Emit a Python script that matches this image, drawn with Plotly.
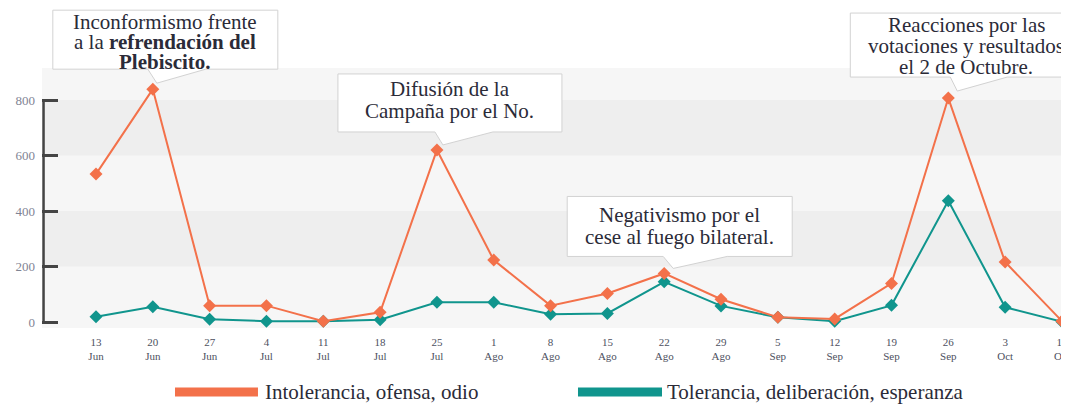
import plotly.graph_objects as go

# ---------------- data ----------------
days = ["13", "20", "27", "4", "11", "18", "25", "1", "8", "15", "22", "29",
        "5", "12", "19", "26", "3", "10"]
months = ["Jun", "Jun", "Jun", "Jul", "Jul", "Jul", "Jul", "Ago", "Ago", "Ago",
          "Ago", "Ago", "Sep", "Sep", "Sep", "Sep", "Oct", "Oct"]
intolerancia = [533, 839, 59, 59, 3, 35, 620, 223, 59, 103, 175, 82, 17, 11,
                139, 807, 216, 3]
tolerancia = [19, 55, 10, 3, 3, 8, 71, 71, 28, 31, 145, 58, 17, 3, 60, 437,
              53, 1]
series_names = ["Intolerancia, ofensa, odio", "Tolerancia, deliberación, esperanza"]
y_ticks = [0, 200, 400, 600, 800]

callout_texts = [
    ["Inconformismo frente", "a la <b>refrendación del</b>", "<b>Plebiscito.</b>"],
    ["Difusión de la", "Campaña por el No."],
    ["Negativismo por el", "cese al fuego bilateral."],
    ["Reacciones por las", "votaciones y resultados", "el 2 de Octubre."],
]
callout_points = [1, 6, 10, 15]   # index of the week each callout points to

# ---------------- style ----------------
ORANGE = "#F3714A"
TEAL = "#10958D"
FONT = "Liberation Serif"
TEXT = "#2b2b38"
colors = [ORANGE, TEAL]

# callout geometry in pixels relative to the pointed data point (y up)
callout_geom = [
    dict(box=(-100, 125, 20, 79), tail=(-5, 53), tip=(4, 6), tx=12.5, ty=[67, 47, 27]),
    dict(box=(-99, 125, 18, 76), tail=(-2, 56), tip=(6, 5), tx=13, ty=[61, 39]),
    dict(box=(-97, 128, 17, 77), tail=(-1, 63), tip=(9, 5), tx=15.5, ty=[58, 36]),
    dict(box=(-98, 120, 21, 85), tail=(2, 59), tip=(9, 7), tx=18, ty=[73, 52, 31]),
]

x = list(range(len(days)))
ticktext = [f"{d}<br>{m}" for d, m in zip(days, months)]

fig = go.Figure()
# teal drawn first so the orange markers sit on top
for name, vals, col in reversed(list(zip(series_names, [intolerancia, tolerancia], colors))):
    fig.add_trace(go.Scatter(
        x=x, y=vals, name=name, mode="lines+markers",
        line=dict(color=col, width=2),
        marker=dict(symbol="diamond", size=10, color=col),
        showlegend=False, cliponaxis=False,
    ))

shapes = []
x_lo, x_hi = -0.9504, 17.124
y_lo, y_hi = -21.6, 1131.5
band_top = 915
# background bands
shapes.append(dict(type="rect", xref="x", yref="y", x0=x_lo, x1=len(x) - 1,
                   y0=y_lo, y1=band_top, fillcolor="#f6f6f6", line_width=0,
                   layer="below"))
for lo, hi in [(200, 400), (600, 800)]:
    shapes.append(dict(type="rect", xref="x", yref="y", x0=x_lo, x1=len(x) - 1,
                       y0=lo, y1=hi, fillcolor="#eeeeee", line_width=0,
                       layer="below"))
# y axis bracket line
shapes.append(dict(type="line", xref="paper", yref="y", x0=0.0015, x1=0.0015,
                   y0=y_ticks[0], y1=y_ticks[-1],
                   line=dict(color="#444444", width=2.5)))

annotations = []
for texts, idx, g in zip(callout_texts, callout_points, callout_geom):
    yv = intolerancia[idx]
    x0, x1, b, t = g["box"]
    tl, tr = g["tail"]
    tipx, tipy = g["tip"]
    path = (f"M {x0},{t} L {x1},{t} L {x1},{b} L {tr},{b} L {tipx},{tipy} "
            f"L {tl},{b} L {x0},{b} Z")
    shapes.append(dict(type="path", xref="x", yref="y", xsizemode="pixel",
                       ysizemode="pixel", xanchor=idx, yanchor=yv, path=path,
                       fillcolor="white", line=dict(color="#d2d2d2", width=1),
                       layer="above"))
    for line, dy in zip(texts, g["ty"]):
        annotations.append(dict(x=idx, y=yv, xref="x", yref="y", text=line,
                                showarrow=False, xshift=g["tx"], yshift=dy,
                                xanchor="center", yanchor="middle",
                                font=dict(family=FONT, size=21, color=TEXT)))

# custom legend
legend_pos = [(0.1295, 0.2103, 0.2152), (0.5219, 0.6037, 0.6066)]
ly, lh = -0.2, 0.014
for name, col, (sx0, sx1, tx) in zip(series_names, colors, legend_pos):
    shapes.append(dict(type="rect", xref="paper", yref="paper", x0=sx0, x1=sx1,
                       y0=ly - lh, y1=ly + lh, fillcolor=col, line_width=0))
    annotations.append(dict(x=tx, y=ly, xref="paper", yref="paper", text=name,
                            showarrow=False, xanchor="left", yanchor="middle",
                            font=dict(family=FONT, size=21, color=TEXT)))

fig.update_layout(
    width=1061, height=397,
    margin=dict(l=34, r=0, t=0, b=77),
    paper_bgcolor="white", plot_bgcolor="white",
    font=dict(family=FONT),
    shapes=shapes, annotations=annotations,
    xaxis=dict(range=[x_lo, x_hi], tickvals=x, ticktext=ticktext,
               showgrid=False, zeroline=False, showline=False, ticks="",
               tickfont=dict(family=FONT, size=11, color="#4d5060"),
               ticklabelstandoff=6, ticklabeloverflow="allow"),
    yaxis=dict(range=[y_lo, y_hi], tickvals=y_ticks, showgrid=False,
               zeroline=False, showline=False, ticks="inside", ticklen=16,
               tickwidth=2.5, tickcolor="#444444",
               tickfont=dict(family=FONT, size=13, color="#7f8494"),
               ticklabelstandoff=6),
)

fig.write_html("out.html")
